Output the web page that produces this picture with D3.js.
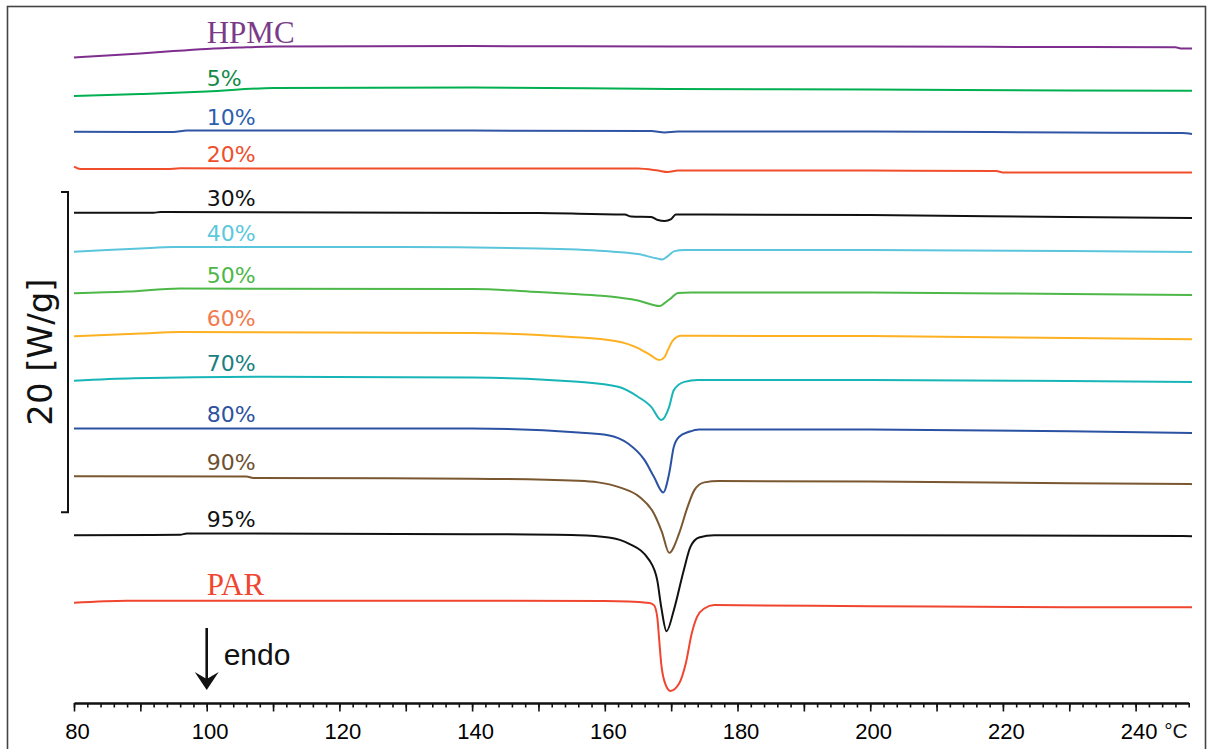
<!DOCTYPE html>
<html>
<head>
<meta charset="utf-8">
<script src="https://cdn.jsdelivr.net/npm/d3@7"></script>
<style>
  body { margin: 0; background: #fff; }
  svg { display: block; }
  .pct { font-family: "DejaVu Sans", sans-serif; font-size: 22px; }
  .serif { font-family: "Liberation Serif", "Times New Roman", serif; font-size: 31px; }
</style>
</head>
<body>
<svg id="chart" width="1215" height="749"></svg>
<script>
// DSC curves, temperature [°C] vs heat flow [W/g], curves shifted for display
const hpmc = [[80,-3.59],[85,-3.47],[90,-3.34],[95,-3.19],[100,-3.06],[105,-2.97],[110,-2.91],[140,-2.88],[170,-2.91],[200,-2.91],[230,-2.94],[246,-2.96],[247,-3.03],[248.5,-3.03]];
const p5 = [[80,-6.0],[90,-5.875],[100,-5.72],[110,-5.5],[140,-5.47],[170,-5.56],[200,-5.59],[230,-5.66],[248.5,-5.67]];
const p10 = [[80,-8.23],[95,-8.25],[97,-8.16],[140,-8.16],[167,-8.19],[169,-8.28],[171,-8.22],[200,-8.22],[230,-8.28],[247,-8.31],[248.5,-8.375]];
const p20 = [[80,-10.41],[81,-10.56],[94,-10.56],[96,-10.52],[165,-10.53],[168,-10.66],[169.5,-10.75],[171,-10.66],[200,-10.66],[219,-10.69],[220,-10.78],[248.5,-10.78]];
const p30 = [[80,-13.29],[92,-13.29],[93,-13.25],[150,-13.31],[158,-13.375],[163,-13.41],[164,-13.53],[167,-13.56],[168,-13.75],[169,-13.81],[170,-13.69],[170.7,-13.41],[175,-13.41],[200,-13.44],[230,-13.56],[248.5,-13.625]];
const p40 = [[80,-15.73],[85,-15.625],[90,-15.53],[95,-15.44],[130,-15.44],[150,-15.53],[160,-15.69],[165,-15.875],[168,-16.16],[168.7,-16.21],[169.5,-16.0],[170.5,-15.69],[172,-15.625],[200,-15.625],[230,-15.69],[248.5,-15.75]];
const p50 = [[80,-18.33],[88,-18.22],[96,-18.03],[140,-18.06],[150,-18.25],[156,-18.39],[160,-18.5],[165,-18.78],[168.3,-19.125],[169,-18.94],[170,-18.625],[171,-18.31],[173,-18.27],[200,-18.28],[230,-18.375],[248.5,-18.44]];
const p60 = [[80,-21.01],[90,-20.84],[96,-20.75],[140,-20.81],[155,-21.06],[160,-21.22],[163,-21.44],[165,-21.75],[167,-22.22],[168.2,-22.5],[169,-22.31],[169.5,-21.875],[170.3,-21.25],[171.5,-20.98],[200,-21.0],[230,-21.125],[248.5,-21.19]];
const p70 = [[80,-23.79],[89,-23.64],[108,-23.54],[140,-23.59],[156,-23.86],[162,-24.17],[165,-24.79],[167,-25.42],[168.5,-26.25],[169.7,-25.42],[170.4,-24.375],[172,-23.86],[174,-23.75],[200,-23.75],[230,-23.81],[248.5,-23.875]];
const p80 = [[80,-26.77],[140,-26.78],[156,-27.02],[160.5,-27.19],[163.5,-27.71],[166,-28.75],[167.4,-29.79],[168.8,-30.77],[169.7,-29.58],[170.4,-27.92],[171.2,-27.29],[172.7,-26.98],[174.2,-26.83],[200,-26.84],[230,-26.94],[248.5,-27.06]];
const p90 = [[80,-29.75],[106,-29.78],[107,-29.86],[140,-29.91],[156,-30.04],[159,-30.14],[162,-30.42],[165.2,-31.04],[167.4,-32.08],[168.6,-33.23],[169.7,-34.54],[171.2,-33.33],[172.4,-31.77],[173.5,-30.625],[175,-30.14],[177.2,-30.06],[200,-30.09],[230,-30.19],[248.5,-30.25]];
const p95 = [[80,-33.44],[96,-33.42],[97,-33.33],[140,-33.375],[156,-33.44],[160.6,-33.58],[163.6,-33.96],[166.7,-35.0],[167.9,-36.25],[168.5,-37.92],[169.3,-39.44],[170.4,-38.125],[171.9,-35.625],[172.9,-34.17],[174.2,-33.58],[176.5,-33.44],[200,-33.44],[248.5,-33.5]];
const par = [[80,-37.66],[88,-37.53],[140,-37.53],[160,-37.56],[166.7,-37.67],[167.4,-37.81],[167.9,-38.54],[168.2,-40.0],[168.5,-41.46],[169.1,-42.71],[169.9,-43.17],[171.2,-42.71],[172.2,-41.46],[173.1,-39.58],[173.9,-38.54],[175,-38.02],[176.5,-37.81],[200,-37.875],[230,-37.94],[248.5,-37.94]];

const curves = [hpmc, p5, p10, p20, p30, p40, p50, p60, p70, p80, p90, p95, par];
const names = ["HPMC", "5%", "10%", "20%", "30%", "40%", "50%", "60%", "70%", "80%", "90%", "95%", "PAR"];
const lineColors = ["#7e2f8e", "#00b050", "#2f55a4", "#f04e2b", "#111111", "#5bc5dc", "#4db848", "#fdb022", "#17b5b8", "#2b52a2", "#7a5730", "#111111", "#f04630"];
const labelColors = ["#7a3c88", "#138a47", "#2e5fae", "#f04e2b", "#111111", "#5bc8dc", "#4db848", "#f37a4d", "#1a8080", "#2e52a0", "#6e5030", "#111111", "#f04630"];

const scaleBar = [-12, -32]; // 20 W/g

const svg = d3.select("#chart");

// frame
svg.append("rect")
    .attr("x", 7.5).attr("y", 6.5)
    .attr("width", 1198).attr("height", 760)
    .attr("fill", "none").attr("stroke", "#444").attr("stroke-width", 1.6);

const x = d3.scaleLinear().domain([80, 248]).range([74, 1188.7]);
const y = d3.scaleLinear().domain([0, -46.8]).range([0, 749]);
const axisY = 703;

// axis: minor ticks every 2, mid every 10, labels every 20
svg.append("g")
    .attr("transform", `translate(0,${axisY})`)
    .call(d3.axisBottom(x).tickValues(d3.range(80, 249, 2)).tickSize(4.5).tickSizeOuter(0).tickFormat(""))
    .call(g => g.selectAll("line").attr("stroke", "#111").attr("stroke-width", 1.6))
    .call(g => g.select(".domain").attr("stroke", "#111").attr("stroke-width", 2.6));

svg.append("g")
    .attr("transform", `translate(0,${axisY})`)
    .call(d3.axisBottom(x).tickValues(d3.range(80, 249, 10)).tickSize(8.5).tickSizeOuter(0)
        .tickPadding(12).tickFormat(d => d % 20 === 0 ? d : ""))
    .call(g => g.select(".domain").remove())
    .call(g => g.selectAll("line").attr("stroke", "#111").attr("stroke-width", 1.6))
    .call(g => g.selectAll("text")
        .attr("dx", 3)
        .attr("fill", "#000")
        .style("font-family", "Liberation Sans, Arial, sans-serif")
        .style("font-size", "22px"));

svg.append("text")
    .attr("x", 1176).attr("y", 738)
    .attr("text-anchor", "middle")
    .style("font-family", "Liberation Sans, Arial, sans-serif")
    .style("font-size", "21px").attr("fill", "#111")
    .text("°C");

// curves
const line = d3.line()
    .x(d => x(d[0]))
    .y(d => y(d[1]))
    .curve(d3.curveMonotoneX);

svg.append("g").selectAll("path")
    .data(curves)
    .join("path")
    .attr("d", line)
    .attr("fill", "none")
    .attr("stroke", (d, i) => lineColors[i])
    .attr("stroke-width", 2);

// labels above each curve at 100 °C
function valueAt(c, t) {
    for (let i = 1; i < c.length; i++) {
        if (c[i][0] >= t) {
            const a = c[i - 1], b = c[i];
            return a[1] + (b[1] - a[1]) * (t - a[0]) / (b[0] - a[0]);
        }
    }
    return c[c.length - 1][1];
}

svg.append("g").selectAll("text")
    .data(curves)
    .join("text")
    .attr("class", (d, i) => (names[i] === "HPMC" || names[i] === "PAR") ? "serif" : "pct")
    .attr("x", x(100))
    .attr("y", d => y(valueAt(d, 100)) - 6)
    .attr("fill", (d, i) => labelColors[i])
    .text((d, i) => names[i]);

// scale bar 20 W/g
svg.append("path")
    .attr("d", `M61,${y(scaleBar[0])}H68V${y(scaleBar[1])}H61`)
    .attr("fill", "none").attr("stroke", "#111").attr("stroke-width", 2);

svg.append("text")
    .attr("transform", `translate(52,${(y(scaleBar[0]) + y(scaleBar[1])) / 2}) rotate(-90)`)
    .attr("text-anchor", "middle")
    .style("font-family", "DejaVu Sans, sans-serif")
    .style("font-size", "34px")
    .attr("fill", "#111")
    .text("20 [W/g]");

// endo arrow
const ax = x(100);
svg.append("path")
    .attr("d", `M${ax},628V682`)
    .attr("fill", "none").attr("stroke", "#111").attr("stroke-width", 2.6);
svg.append("path")
    .attr("d", `M${ax},690L${ax - 12},672L${ax},679L${ax + 12},672Z`)
    .attr("fill", "#111");

svg.append("text")
    .attr("x", ax + 17).attr("y", 665)
    .style("font-family", "Liberation Sans, Arial, sans-serif")
    .style("font-size", "30px")
    .attr("fill", "#111")
    .text("endo");
</script>
</body>
</html>
